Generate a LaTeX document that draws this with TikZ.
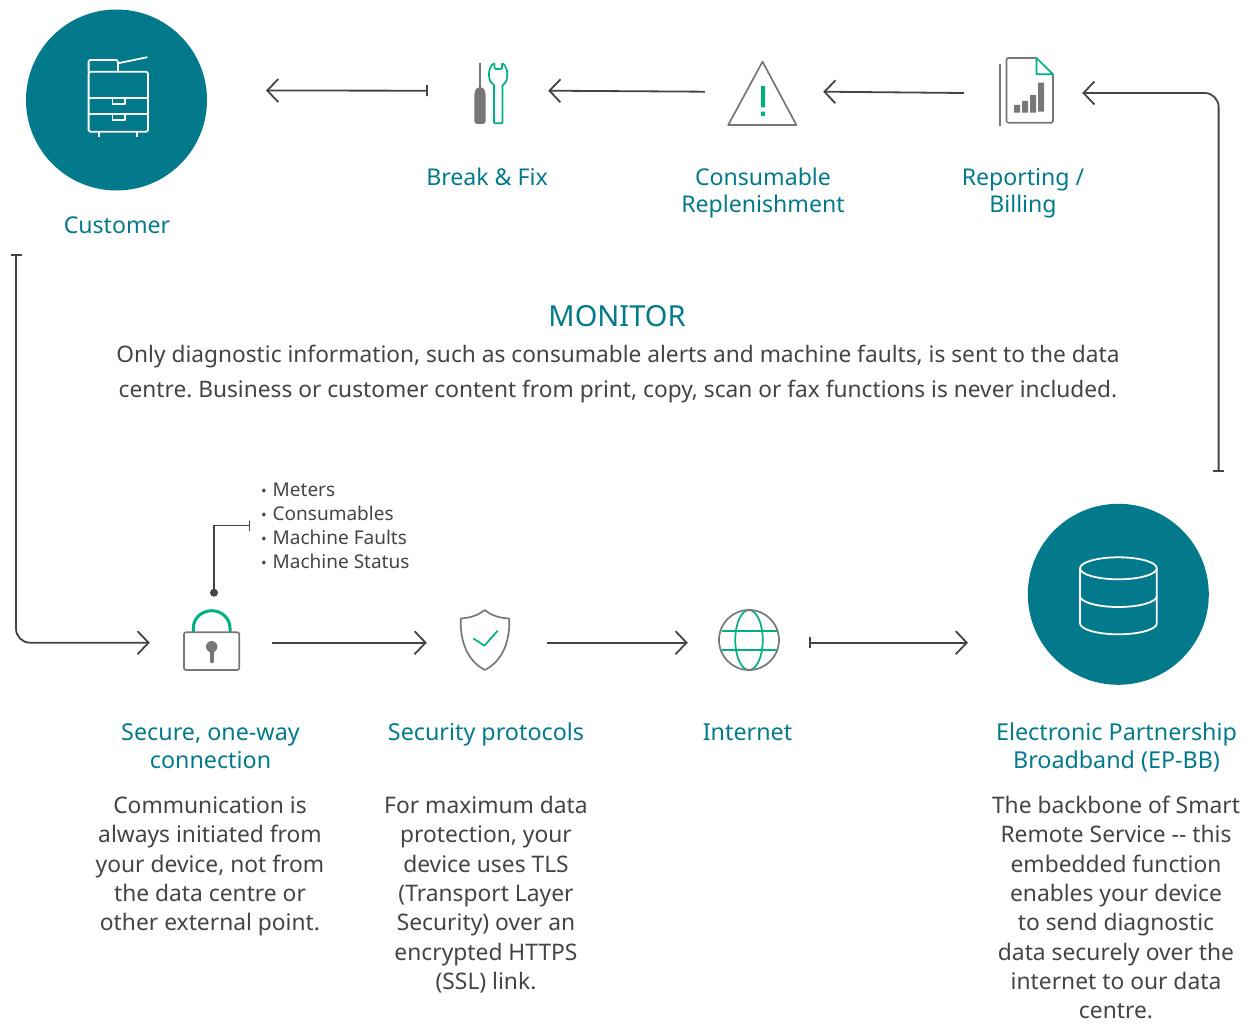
\documentclass[tikz,border=0pt]{standalone}
\usepackage{fontspec}
\setmainfont{Noto Sans}
\usetikzlibrary{positioning,
				arrows.meta,
				calc}
\definecolor{teal1}{HTML}{027A8C}
\definecolor{green1}{HTML}{00B085}
\definecolor{gray1}{HTML}{777777}
\definecolor{ink1}{HTML}{444444}
\newcommand{\listdot}{\makebox[11.5pt][l]{\raisebox{0pt}{\fontsize{15}{15}\selectfont\textbullet}}}
\tikzset{
	blob/.style={circle,fill=teal1,minimum size=181pt,inner sep=0},
	slot/.style={minimum width=#1,minimum height=10pt,inner sep=0},
	flow/.style={draw=ink1,line width=1.8pt,-{Straight Barb[length=11pt,width=23pt,line width=1.8pt]}},
	barflow/.style={draw=ink1,line width=1.8pt,{Bar[width=11pt,line width=1.8pt]}-{Straight Barb[length=11pt,width=23pt,line width=1.8pt]}},
	head/.style={text=teal1,inner sep=0,anchor=north,align=center,font=\fontsize{23.1}{27}\selectfont},
	lowhead/.style={head,font=\fontsize{23.3}{28}\selectfont},
	para/.style={text=ink1,inner sep=0,anchor=north,align=center,font=\frenchspacing\fontsize{22.8}{29.3}\selectfont},
	icon/.style={draw=gray1,line width=1.7pt,line join=round},
	hilite/.style={draw=green1,line width=1.7pt,line join=round},
	wline/.style={draw=white,line width=1.8pt,line join=round},
}
\begin{document}
\begin{tikzpicture}[x=1pt,y=-1pt]
	\useasboundingbox (0,0) rectangle (1250,1024);
	% top row
	\node[blob] (customer) at (116.5,100) {};
	\node[slot=120pt] (breakslot) at (488,90.7) {};
	\node[slot=118pt] (alertslot) at (764,91.7) {};
	\node[slot=118pt] (reportslot) at (1023,93) {};
	\coordinate (customertip) at (266,90.5);
	\coordinate (dbbar) at (1218.6,472);
	% bottom row
	\node[blob] (database) at (1118.3,594.3) {};
	\node[slot=122pt] (lockslot) at (211,642.7) {};
	\node[slot=120pt] (shieldslot) at (487,642.7) {};
	\node[slot=121pt] (globeslot) at (748.5,642.7) {};
	\coordinate (dbtip) at (968,642.7);
	\coordinate (custbar) at (16,254.5);
	% connectors
	\draw[barflow] (breakslot.west) -- (customertip);
	\draw[flow] (alertslot.west) -- (breakslot.east);
	\draw[flow] (reportslot.west) -- (alertslot.east);
	\draw[barflow,rounded corners=14pt] (dbbar) |- (reportslot.east);
	\draw[barflow,rounded corners=14pt] (custbar) |- (lockslot.west);
	\draw[flow] (lockslot.east) -- (shieldslot.west);
	\draw[flow] (shieldslot.east) -- (globeslot.west);
	\draw[barflow] (globeslot.east) -- (dbtip);
	% printer
	\draw[wline,rounded corners=1.5pt] (88.6,71.7) rectangle (147.9,131.7);
	\draw[wline,rounded corners=1.5pt] (88.6,71.7) -- (88.6,60) -- (117.9,60) -- (117.9,71.7);
	\draw[wline,line cap=round] (117.9,63.3) -- (146.8,57.3);
	\draw[wline] (88.6,98.3) -- (147.9,98.3) (88.6,114.3) -- (147.9,114.3);
	\draw[wline] (112.5,98.3) |- (125,104) -- (125,98.3) (112.5,114.3) |- (125,120) -- (125,114.3);
	\draw[wline] (99,131.7) -- (99,137.3) (137,131.7) -- (137,137.3);
	% screwdriver and wrench
	\draw[draw=gray1,line width=1.6pt] (479.8,62.7) -- (479.8,88);
	\fill[gray1,rounded corners=3pt] (476.5,87.3) -- (483.5,87.3) -- (485.7,93) -- (485.7,124) -- (474.3,124) -- (474.3,93) -- cycle;
	\draw[hilite,rounded corners=1pt] (494,85) -- (494,123.3) -- (502.5,123.3) -- (502.5,85)
		.. controls (506,83) and (507.3,79) .. (507.3,74.5) .. controls (507.3,69.5) and (505,65) .. (502,63)
		-- (502,69) -- (494.5,69) -- (494.5,63)
		.. controls (491,65) and (489,69.5) .. (489,74.5) .. controls (489,79) and (490.5,83) .. (494,85);
	% warning
	\draw[icon] (762.5,61.7) -- (796.4,125) -- (728.2,125) -- cycle;
	\fill[green1] (761,86) rectangle (765,107.3) (761,111.7) rectangle (765,116);
	% report
	\draw[icon,rounded corners=1.5pt] (1036.4,58) -- (1006.4,58) -- (1006.4,122.7) -- (1053,122.7) -- (1053,74.3);
	\draw[hilite] (1036.4,58) -- (1036.4,74.3) -- (1053,74.3) -- cycle;
	\draw[draw=gray1,line width=1.6pt] (1000,64) -- (1000,125.7);
	\fill[gray1] (1014,105) rectangle (1020,112.7) (1022,101) rectangle (1028,112.7) (1030,95) rectangle (1036,112.7) (1038,82.7) rectangle (1044,111.7);
	% lock
	\draw[draw=green1,line width=3pt] (193.3,632.3) -- (193.3,628) arc(180:360:18.35 and 17.3) -- (230,632.3);
	\draw[icon,rounded corners=2pt] (184,632.3) rectangle (239.3,670);
	\fill[gray1] (211.7,646.7) circle (5.7);
	\draw[draw=gray1,line width=3.6pt,line cap=round] (211.7,648) -- (211.7,661.5);
	% tag line to the list
	\node[circle,fill=ink1,minimum size=8pt,inner sep=0] (lockdot) at (214,592.7) {};
	\coordinate (listbar) at (250,525.5);
	\draw[draw=ink1,line width=1.3pt,-{Bar[width=10pt,line width=1.3pt]}] (lockdot) |- (listbar);
	% shield
	\draw[icon] (484.8,610) .. controls (477,616) and (469,618) .. (460.7,618.5)
		.. controls (460,643) and (468,661) .. (484.8,670)
		.. controls (502,661) and (510,643) .. (509.3,618.5)
		.. controls (500,618) and (492,616) .. (484.8,610) -- cycle;
	\draw[hilite] (473.3,638.3) -- (484.3,645.7) -- (497.7,630.7);
	% globe
	\draw[hilite] (749,640) ellipse (13.75 and 30);
	\draw[hilite] (721.5,630.7) -- (776.5,630.7) (721.5,650) -- (776.5,650);
	\draw[icon] (749,640) circle (30);
	% database
	\draw[wline] (1118.4,568.3) ellipse (38.4 and 11);
	\draw[wline] (1080,568.3) -- (1080,623.3) arc(180:0:38.4 and 11) -- (1156.8,568.3);
	\draw[wline] (1080,596) arc(180:0:38.4 and 11);
	% labels
	\node[head] (customerlbl) at (117,217) {Customer};
	\node[head] (breaklbl) at (487,167.5) {Break \& Fix};
	\node[head] (alertlbl) at (763,167.5) {Consumable\\Replenishment};
	\node[head] (reportlbl) at (1023,168.5) {Reporting /\\Billing};
	\node[head,font=\fontsize{29}{34}\selectfont] (monitorlbl) at (617,305.5) {MONITOR};
	\node[para,font=\frenchspacing\fontsize{22.7}{35}\selectfont] (monitortxt) at (618,345) {Only diagnostic information, such as consumable alerts and machine faults, is sent to the data\\centre. Business or customer content from print, copy, scan or fax functions is never included.};
	\node[para,anchor=north west,align=left,font=\fontsize{19}{24}\selectfont] (listtxt) at (261,482.5) {\listdot Meters\\\listdot Consumables\\\listdot Machine Faults\\\listdot Machine Status};
	\node[lowhead] (locklbl) at (210.5,723.5) {Secure, one-way\\connection};
	\node[lowhead] (shieldlbl) at (486,722.5) {Security protocols};
	\node[lowhead] (globelbl) at (747.5,724) {Internet};
	\node[lowhead] (dblbl) at (1116.5,723) {Electronic Partnership\\Broadband (EP-BB)};
	\node[para] (locktxt) at (210,796.5) {Communication is\\always initiated from\\your device, not from\\the data centre or\\other external point.};
	\node[para] (shieldtxt) at (486,796) {For maximum data\\protection, your\\device uses TLS\\(Transport Layer\\Security) over an\\encrypted HTTPS\\(SSL) link.};
	\node[para] (dbtxt) at (1116,796) {The backbone of Smart\\Remote Service -{}- this\\embedded function\\enables your device\\to send diagnostic\\data securely over the\\internet to our data\\centre.};
\end{tikzpicture}
\end{document}
